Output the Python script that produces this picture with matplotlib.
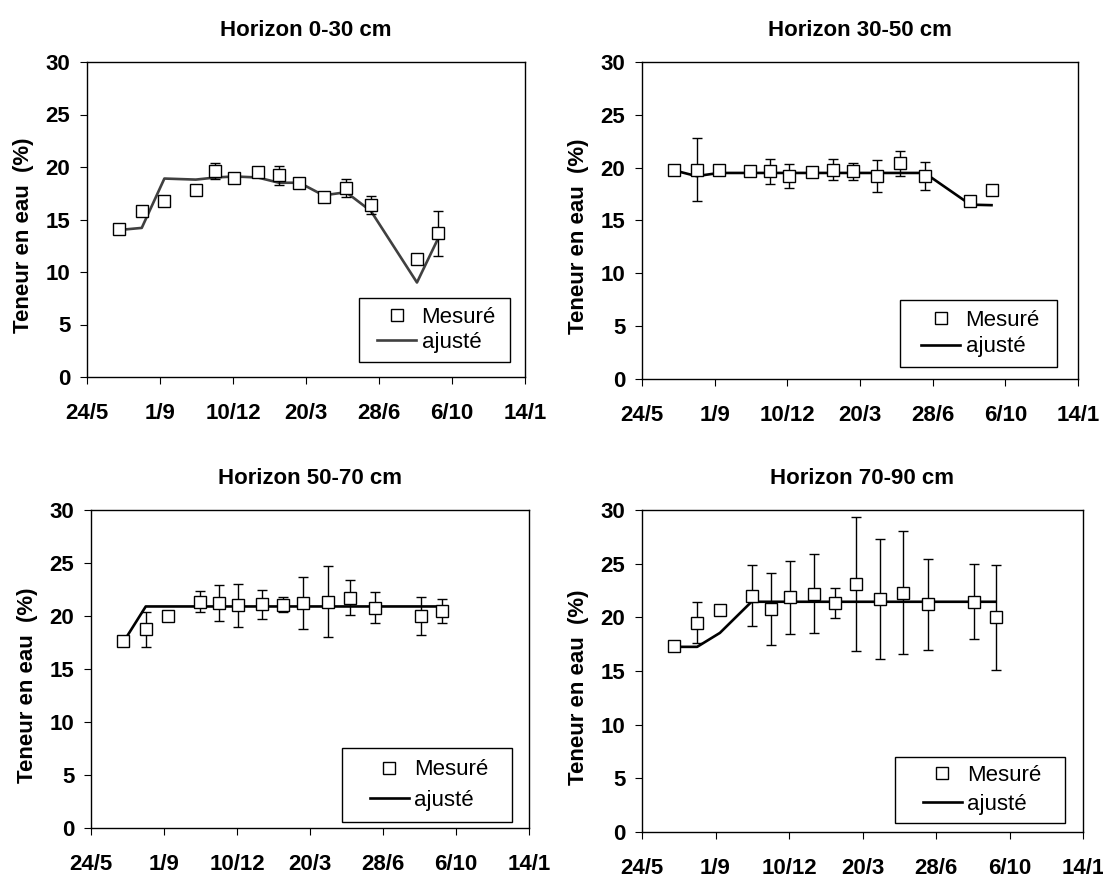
import matplotlib
matplotlib.use("Agg")
import matplotlib.pyplot as plt
from matplotlib.patches import Rectangle

plt.rcParams['font.family'] = ['Liberation Sans', 'DejaVu Sans']

# jours depuis le 24/5
jours = [44, 75, 106, 149, 176, 202, 234, 263, 291, 324, 355, 389, 452, 481]
tick_jours = [0, 100, 200, 300, 400, 500, 600]
tick_labels = ['24/5', '1/9', '10/12', '20/3', '28/6', '6/10', '14/1']

titres = ['Horizon 0-30 cm', 'Horizon 30-50 cm', 'Horizon 50-70 cm', 'Horizon 70-90 cm']

mesure_0_30 = [14.1, 15.8, 16.8, 17.8, 19.6, 19.0, 19.5, 19.2, 18.5, 17.1, 18.0, 16.4, 11.2, 13.7]
err_0_30 = [0, 0, 0, 0, 0.75, 0, 0, 0.9, 0, 0, 0.9, 0.85, 0, 2.15]
ajuste_0_30 = [14.0, 14.2, 18.9, 18.8, 19.0, 19.1, 19.0, 18.5, 18.5, 17.3, 17.6, 15.8, 9.0, 13.2]

mesure_30_50 = [19.8, 19.8, 19.8, 19.65, 19.65, 19.2, 19.55, 19.8, 19.65, 19.2, 20.4, 19.2, 16.8, 17.85]
err_30_50 = [0, 3.0, 0, 0, 1.15, 1.15, 0.3, 1.0, 0.8, 1.5, 1.2, 1.3, 0, 0]
ajuste_30_50 = [19.75, 19.2, 19.5, 19.5, 19.5, 19.5, 19.5, 19.5, 19.5, 19.5, 19.5, 19.5, 16.5, 16.45]

mesure_50_70 = [17.6, 18.75, 20.0, 21.35, 21.2, 21.0, 21.1, 21.05, 21.2, 21.35, 21.7, 20.8, 20.0, 20.5]
err_50_70 = [0, 1.65, 0, 1.0, 1.7, 2.0, 1.35, 0.7, 2.45, 3.35, 1.65, 1.45, 1.8, 1.15]
ajuste_50_70 = [17.5, 20.9, 20.9, 20.9, 20.9, 20.9, 20.9, 20.9, 20.9, 20.9, 20.9, 20.9, 20.9, 20.9]

mesure_70_90 = [17.3, 19.5, 20.7, 22.0, 20.8, 21.85, 22.2, 21.3, 23.1, 21.7, 22.3, 21.2, 21.45, 20.0]
err_70_90 = [0, 1.9, 0, 2.85, 3.35, 3.4, 3.7, 1.4, 6.25, 5.6, 5.75, 4.2, 3.5, 4.9]
ajuste_70_90 = [17.25, 17.25, 18.55, 21.45, 21.45, 21.45, 21.45, 21.45, 21.45, 21.45, 21.45, 21.45, 21.45, 21.45]

mesures = [mesure_0_30, mesure_30_50, mesure_50_70, mesure_70_90]
erreurs = [err_0_30, err_30_50, err_50_70, err_70_90]
ajustes = [ajuste_0_30, ajuste_30_50, ajuste_50_70, ajuste_70_90]
couleurs = ['#404040', 'black', 'black', 'black']

W, H = 1103, 876
# boites des axes en pixels: gauche, droite, haut, bas
boites = [(87, 525, 62, 377), (642, 1078, 62, 379), (91, 529, 510, 828), (642, 1083, 510, 832)]
# cadres des legendes en pixels: gauche, droite, haut, bas
cadres = [(359, 510, 298, 362), (900, 1057, 300, 367), (342, 512, 748, 822), (895, 1065, 757, 823)]
espacement = [0.2, 0.25, 0.42, 0.38]

fig = plt.figure(figsize=(W / 100, H / 100), dpi=100)

for i in range(4):
    l, r, t, b = boites[i]
    ax = fig.add_axes([l / W, 1 - b / H, (r - l) / W, (b - t) / H])
    ax.plot(jours, ajustes[i], color=couleurs[i], lw=1.9, zorder=2, label='ajusté')
    ax.errorbar(jours, mesures[i], yerr=erreurs[i], fmt='none', ecolor='black',
                elinewidth=1, capsize=3.8, capthick=1, zorder=3)
    ax.plot(jours, mesures[i], ls='none', marker='s', ms=9.3, mfc='white',
            mec='black', mew=1, zorder=4, label='Mesuré')
    ax.set_xlim(0, 600)
    ax.set_ylim(0, 30)
    ax.set_xticks(tick_jours)
    ax.set_xticklabels(tick_labels)
    ax.set_yticks(range(0, 31, 5))
    ax.tick_params(axis='x', direction='out', length=5, pad=14, labelsize=16)
    ax.tick_params(axis='y', direction='out', length=5, pad=7, labelsize=16)
    for lab in ax.get_xticklabels() + ax.get_yticklabels():
        lab.set_fontweight('bold')
    for s in ax.spines.values():
        s.set_linewidth(1)
    ax.set_title(titres[i], fontsize=16, fontweight='bold', pad=19)
    ax.set_ylabel('Teneur en eau  (%)', fontsize=16, fontweight='bold', labelpad=8)
    ax.yaxis.label.set_y(0.45)

    # cadre de la legende
    cx0, cx1, cy0, cy1 = cadres[i]
    fx0 = (cx0 - l) / (r - l)
    fx1 = (cx1 - l) / (r - l)
    fy0 = (b - cy1) / (b - t)
    fy1 = (b - cy0) / (b - t)
    ax.add_patch(Rectangle((fx0, fy0), fx1 - fx0, fy1 - fy0, transform=ax.transAxes,
                           facecolor='white', edgecolor='black', lw=1, zorder=5))
    h, lb = ax.get_legend_handles_labels()
    leg = ax.legend([h[1], h[0]], [lb[1], lb[0]], loc='center',
                    bbox_to_anchor=((fx0 + fx1) / 2 + 2 / (r - l), (fy0 + fy1) / 2),
                    borderaxespad=0, borderpad=0, fontsize=16, frameon=False,
                    handlelength=1.75, handletextpad=0.25, numpoints=1,
                    labelspacing=espacement[i])
    leg.set_zorder(6)

fig.savefig('out.png', dpi=100)
